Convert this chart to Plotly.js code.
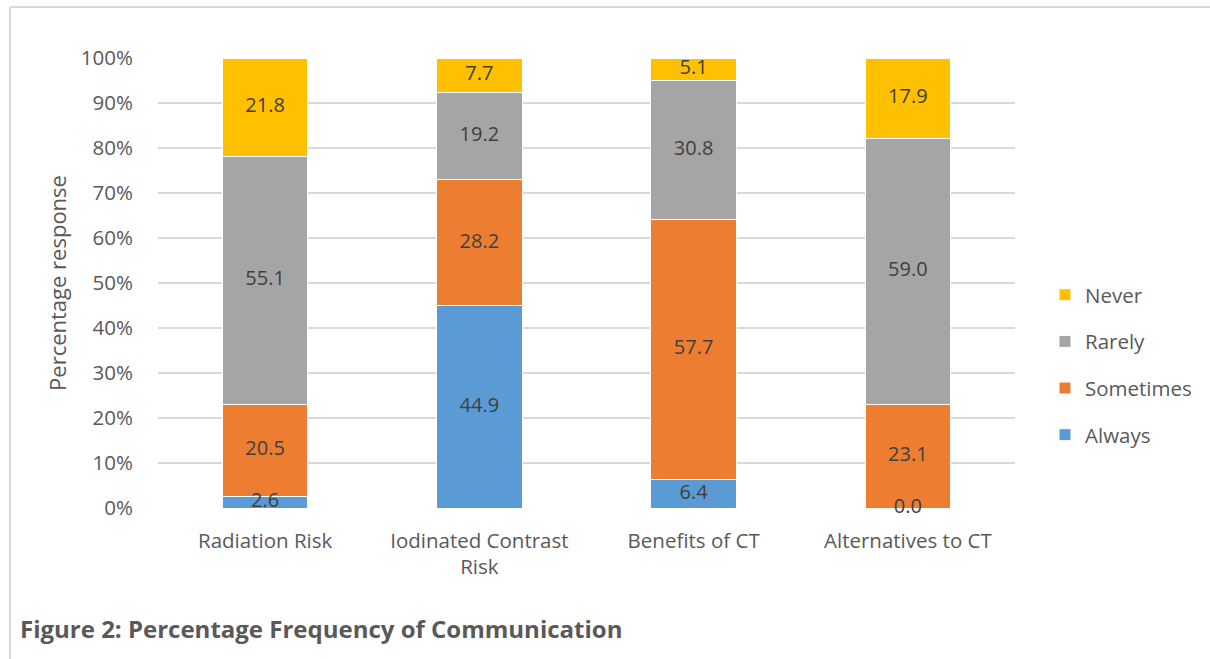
<!DOCTYPE html>
<html><head><meta charset="utf-8">
<script src="https://cdn.plot.ly/plotly-3.0.1.min.js"></script>
<style>html,body{margin:0;padding:0;background:#fff;}#chart{width:1210px;height:659px;}</style>
</head><body><div id="chart"></div>
<script>
var categories = ["Radiation Risk", "Iodinated Contrast<br>Risk", "Benefits of CT", "Alternatives to CT"];
var always = [2.6, 44.9, 6.4, 0.0];
var sometimes = [20.5, 28.2, 57.7, 23.1];
var rarely = [55.1, 19.2, 30.8, 59.0];
var never = [21.8, 7.7, 5.1, 17.9];
var seriesNames = ["Always", "Sometimes", "Rarely", "Never"];
var seriesColors = ["#5b9bd5", "#ed7d31", "#a5a5a5", "#ffc000"];
var yTicks = [0,10,20,30,40,50,60,70,80,90,100];

var FONT = "'Open Sans', sans-serif";
var series = [always, sometimes, rarely, never];
var traces = [];
series.forEach(function(vals, i){
  traces.push({type:'bar', x:categories, y:vals, name:seriesNames[i], legendgroup:'g'+i,
    legendrank: 1000 - i,
    marker:{color:seriesColors[i], line:{color:'#ffffff', width:1}},
    hoverinfo:'skip'});
});
var lx=[], ly=[], lt=[];
var base = categories.map(function(){return 0;});
series.forEach(function(vals){
  vals.forEach(function(v,j){
    lx.push(categories[j]); ly.push(base[j]+v/2); lt.push(v.toFixed(1));
    base[j]+=v;
  });
});
traces.push({type:'scatter', mode:'text', x:lx, y:ly, text:lt, showlegend:false,
  textfont:{family:FONT, size:20, color:'#404040'}, cliponaxis:false, hoverinfo:'skip'});

var layout = {
  width:1210, height:659,
  margin:{l:158, r:195, t:58, b:151},
  barmode:'stack', bargap:0.6,
  paper_bgcolor:'#ffffff', plot_bgcolor:'#ffffff',
  font:{family:FONT, color:'#595959', size:20},
  xaxis:{showgrid:false, zeroline:false, showline:false, ticks:'outside', ticklen:14, tickcolor:'rgba(0,0,0,0)',
    tickfont:{family:FONT, size:20.5, color:'#595959'}, fixedrange:true},
  yaxis:{range:[0,100], tickvals:yTicks, ticktext:yTicks.map(function(t){return t+'%';}),
    showgrid:true, gridcolor:'#d9d9d9', gridwidth:1.5, zeroline:false, showline:false,
    ticks:'outside', ticklen:20, tickcolor:'rgba(0,0,0,0)', tickfont:{family:FONT, size:20.5, color:'#595959'},
    title:{text:'Percentage response', font:{family:FONT, size:22, color:'#595959'}, standoff:8}},
  legend:{traceorder:'grouped', x:1.035, y:0.318, xanchor:'left', yanchor:'middle',
    font:{family:FONT, size:20.5, color:'#595959'}, tracegroupgap:17, itemwidth:30},
  annotations:[{xref:'paper', yref:'paper', x:-0.163, y:-0.268, xanchor:'left', yanchor:'middle',
    text:'<b>Figure 2: Percentage Frequency of Communication</b>', showarrow:false,
    font:{family:FONT, size:24, color:'#595959'}}],
  shapes:[
    {type:'line', xref:'paper', yref:'paper', x0:-0.1727, x1:-0.1727, y0:1.1133, y1:-0.5, line:{color:'#d9d9d9', width:2}},
    {type:'line', xref:'paper', yref:'paper', x0:-0.1727, x1:1.4, y0:1.1133, y1:1.1133, line:{color:'#d9d9d9', width:2}}
  ]
};
Plotly.newPlot('chart', traces, layout, {displayModeBar:false, staticPlot:true});
</script></body></html>
